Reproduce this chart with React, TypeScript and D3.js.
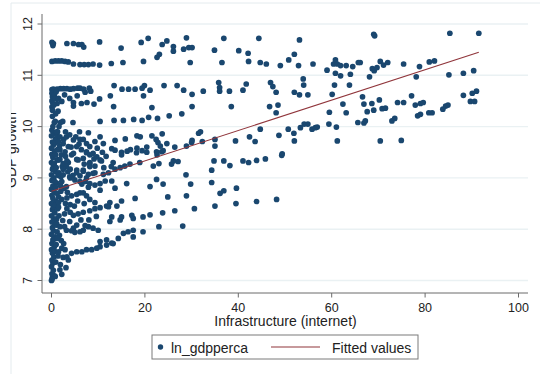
import React from "react";
import * as d3 from "d3";

type P = [number, number];

const xTickValues = [0, 20, 40, 60, 80, 100];
const yTickValues = [7, 8, 9, 10, 11, 12];
const fittedX = [0, 91.5];
const fittedY = [8.74, 11.45];
const xTitle = "Infrastructure (internet)";
const yTitle = "GDP growth";
const legendLabels = ["ln_gdpperca", "Fitted values"];

// internet (x), ln GDP per capita (y)
const topBand: P[] = [
  [0.1, 11.64], [0.3, 11.58], [0.4, 11.62], [3.3, 11.62], [4.7, 11.62], [5.8, 11.6], [6.5, 11.6], [6.9, 11.55],
  [10.3, 11.65], [14.9, 11.53], [19.2, 11.64], [20.7, 11.72], [22.6, 11.35], [23.1, 11.41], [23.7, 11.6], [24.7, 11.67],
  [26.1, 11.56], [26.1, 11.47], [28.9, 11.73], [28.3, 11.51], [29.4, 11.54], [30.1, 11.54], [29.7, 11.25],
  [0.1, 11.27], [0.8, 11.28], [1.5, 11.28], [2.2, 11.28], [2.9, 11.27], [3.6, 11.26], [4.7, 11.22], [6.1, 11.21],
  [7.0, 11.21], [7.9, 11.21], [8.9, 11.22], [10.3, 11.2], [12.8, 11.23], [15.3, 11.25], [19.7, 11.27],
  [34.9, 11.49], [36.9, 11.72], [36.5, 11.25], [40.1, 11.48], [42.1, 11.43], [42.2, 11.27], [44.4, 11.72], [44.7, 11.25],
  [46, 11.22], [49, 11.19], [50.8, 11.3], [52, 11.41], [52.9, 11.19], [53.1, 11.69], [56, 11.22], [59, 11.1],
  [60.4, 11.22], [60.8, 11.3], [61.2, 11.22], [61.9, 11.19], [60.8, 11.04], [61.9, 10.99], [63.1, 11.19], [64, 11.02],
  [64.5, 11.17], [65.7, 11.25], [69, 11.8], [69.2, 11.77], [85.3, 11.82], [91.5, 11.82], [66.1, 11.25], [68.1, 10.97],
  [68.7, 11.13], [69.1, 11.09], [69.7, 11.15], [70.4, 11.27], [71.1, 11.2], [72, 11.25], [75.4, 11.22], [78.1, 10.97],
  [78.8, 11.17], [80.9, 11.26], [82, 11.28], [85.1, 11.01], [88.2, 11.04], [90.4, 11.09],
];

const upperBand: P[] = [
  [0.1, 10.72], [0.4, 10.73], [1.2, 10.73], [1.9, 10.74], [2.6, 10.74], [3.3, 10.74], [4.0, 10.73], [4.7, 10.74],
  [5.6, 10.75], [6.1, 10.75], [6.9, 10.73], [7.2, 10.67], [8.1, 10.75], [8.4, 10.69],
  [0.1, 10.65], [0.2, 10.58], [0.1, 10.5], [0.3, 10.45], [0.1, 10.38], [0.2, 10.32], [0.6, 10.62], [0.8, 10.55], [1.0, 10.68],
  [2.2, 10.49], [4.7, 10.47], [4.7, 10.4], [6.4, 10.45], [7.6, 10.47], [9.1, 10.44], [10.3, 10.54], [12.6, 10.6],
  [13.4, 10.8], [13.3, 10.39], [15.1, 10.73], [16.5, 10.73], [17.9, 10.73], [19.4, 10.75], [19.9, 10.8], [19.7, 10.6],
  [21.1, 10.71], [21.5, 10.37], [24.1, 10.8], [26.9, 10.8], [28.3, 10.71], [30.1, 10.63], [30.1, 10.39], [32.5, 10.69],
  [35.8, 10.86], [36, 10.76], [36, 10.69], [38.1, 10.69], [38.5, 10.39], [41, 10.71], [41.7, 10.83], [46.9, 10.86],
  [47.4, 10.78], [48.1, 10.67], [46.7, 10.39], [48.5, 10.42], [48.1, 10.27], [52, 10.67], [53.1, 10.62], [53.9, 10.93],
  [54, 10.81], [54.9, 10.62], [60.1, 10.63], [60.6, 10.81], [63.8, 10.81], [62.4, 10.44], [63.1, 10.27], [59.5, 10.28],
  [66.6, 10.58], [66.9, 10.44], [67.6, 10.29], [68.6, 10.45], [69, 10.32], [70.2, 10.52], [70.8, 10.35], [71.5, 10.36],
  [74.1, 10.47], [75.4, 10.47], [77.1, 10.6], [77.9, 10.42], [79, 10.45], [79.6, 10.47], [80.8, 10.27], [81.5, 10.27],
  [83.8, 10.34], [84.4, 10.4], [84.9, 10.42], [88.2, 10.61], [90.1, 10.65], [91, 10.69], [89.7, 10.49], [90.6, 10.49],
];

const middleBand: P[] = [
  [0.6, 10.08], [1.9, 10.08], [4.6, 10.08], [10.4, 10.1], [13.4, 10.12], [15.4, 10.12], [17.6, 10.14], [19.4, 10.12],
  [20.8, 10.18], [22.7, 10.16], [25.2, 10.21], [27.9, 10.25],
  [11.1, 9.67], [13.6, 9.73], [15.8, 9.76], [18.3, 9.82], [19, 9.8], [21.5, 9.82], [23.7, 9.86], [22.4, 9.75],
  [22.8, 9.69], [24.7, 9.67], [23.3, 9.62], [22.6, 9.45], [23.9, 9.53], [26.4, 9.6], [28.9, 9.62], [30, 9.69],
  [30.1, 9.73], [31.5, 9.87], [12.9, 9.57], [13.6, 9.54], [15, 9.5], [16.2, 9.52], [16.9, 9.55], [18.3, 9.58],
  [19.4, 9.53], [20.4, 9.6], [15.0, 9.45], [18.2, 9.49], [20.4, 9.5],
  [31.9, 9.9], [35, 9.75], [35, 9.62], [39.4, 9.72], [42.4, 9.8], [43.6, 9.71], [44.7, 9.95], [48.7, 9.83],
  [50.7, 9.95], [51.9, 9.87], [52, 9.72], [53.3, 9.98], [54.1, 10.05], [54.9, 10.05], [55.8, 9.95], [56.5, 9.98],
  [56.9, 9.99], [59.4, 10.05], [61, 9.99], [61.2, 9.72], [49.4, 9.47], [32.3, 9.71],
  [65.6, 10.08], [66.9, 10.07], [67.2, 10.11], [72.9, 10.11], [73.5, 10.16], [78.4, 10.21], [79, 10.24], [70.4, 9.72],
  [74.9, 9.73],
];

const lowerRight: P[] = [
  [22.5, 9.51], [23.6, 9.51], [21.1, 8.83], [21.8, 9.23], [23, 9.28], [25.7, 9.27], [26.1, 9.33], [27.1, 9.32],
  [28.8, 9.06], [29.8, 8.88], [28.9, 8.65], [24.9, 8.63], [22.5, 8.97], [23.9, 8.88], [21.1, 8.28], [23.8, 8.32],
  [26.4, 8.36], [30.6, 8.4], [23, 8.05], [28.1, 8.06], [34.3, 9.15], [34.3, 8.91], [34.8, 9.33], [36.9, 9.33],
  [38.2, 9.24], [41, 9.33], [42.2, 9.3], [43.9, 9.34], [45.8, 9.37], [49.3, 9.44], [36.1, 8.7], [36.9, 8.75],
  [39.6, 8.8], [35, 8.45], [39.5, 8.5], [43.9, 8.54], [48.2, 8.58],
  [10.4, 8.76], [13.6, 8.8], [16.1, 8.89], [17.9, 8.6], [12.5, 8.15], [14.7, 8.18], [17.5, 8.21], [19.6, 8.24],
];

const leftColumn: P[] = [
  [0.0, 7.0], [0.2, 7.06], [0.1, 7.13], [0.4, 7.2], [0.0, 7.27], [0.3, 7.34], [0.1, 7.4], [0.5, 7.46], [0.2, 7.53],
  [0.0, 7.6], [0.6, 7.66], [0.1, 7.72], [0.3, 7.79], [0.8, 7.85], [0.0, 7.9], [0.4, 7.97], [0.2, 8.03], [1.0, 8.08],
  [0.1, 8.14], [0.5, 8.2], [0.0, 8.26], [0.7, 8.32], [0.2, 8.38], [0.4, 8.44], [0.0, 8.5], [0.9, 8.55], [0.3, 8.6],
  [0.1, 8.66], [0.6, 8.72], [0.0, 8.78], [0.3, 8.84], [1.1, 8.9], [0.1, 8.95], [0.5, 9.0], [0.0, 9.06], [0.8, 9.12],
  [0.2, 9.17], [0.4, 9.23], [0.0, 9.3], [1.2, 9.35], [0.3, 9.4], [0.1, 9.46], [0.7, 9.52], [0.0, 9.58], [0.4, 9.64],
  [0.2, 9.7], [0.9, 9.76], [0.0, 9.82], [0.5, 9.88], [0.1, 9.93], [0.3, 10.0], [1.3, 9.55], [1.0, 9.2], [1.2, 8.7],
  [1.1, 8.2], [1.0, 7.7], [1.3, 9.9], [1.4, 9.05], [0.6, 7.09], [0.9, 7.36], [0.7, 7.57], [0.5, 7.81], [1.2, 7.95],
  [0.6, 8.12], [1.3, 8.4], [0.8, 8.47], [1.5, 8.63], [0.9, 8.81], [0.7, 8.93], [1.6, 9.1], [0.6, 9.28], [0.9, 9.45],
  [1.7, 9.62], [0.7, 9.68], [1.1, 9.84], [0.8, 10.1], [0.2, 10.2],
];

const leftDense: P[] = [
  [1.9, 7.31], [1.4, 7.48], [2.1, 7.78], [1.7, 7.88], [2.6, 7.72], [1.6, 8.26], [2.4, 8.17], [2.8, 8.3], [2.0, 8.74],
  [2.7, 8.8], [3.4, 8.72], [1.9, 8.85], [2.3, 9.22], [3.0, 9.42], [2.1, 9.45], [3.6, 9.3], [4.2, 9.6], [2.6, 9.75],
  [3.0, 9.9], [1.6, 10.0], [2.4, 10.1], [1.4, 10.3], [1.2, 10.45], [0.9, 10.25], [5.2, 9.8], [6.4, 9.55], [7.0, 9.27],
  [9.8, 9.58], [10.9, 9.5], [11.7, 9.42], [9.1, 9.37], [5.9, 9.66], [7.9, 9.88], [3.0, 8.5], [4.0, 8.48], [4.9, 8.45],
  [5.6, 8.55], [7.0, 8.5], [3.9, 8.15], [5.4, 8.08], [2.8, 8.05], [6.3, 8.18], [8.0, 8.18], [9.6, 8.25], [2.5, 7.45],
  [3.1, 7.25], [1.3, 7.82], [2.0, 9.02], [3.5, 9.12], [4.6, 9.05], [6.5, 8.88], [7.9, 8.82], [11.2, 9.2], [12.8, 9.22],
  [1.5, 10.55], [2.8, 10.62], [0.5, 10.42], [3.9, 10.55], [5.5, 10.6], [6.0, 9.9],
];

const leftBlob: P[] = [
  [1.1, 9.9], [1.8, 9.8], [3.2, 9.8], [3.9, 9.84], [1.5, 9.71], [2.5, 9.67], [3.6, 9.61], [4.7, 9.74], [5.4, 9.61],
  [6.1, 9.75], [6.8, 9.75], [7.5, 9.67], [8.2, 9.61], [9.3, 9.71], [10.4, 9.8], [1.8, 9.55], [2.9, 9.51], [4.3, 9.45],
  [4.7, 9.48], [5.7, 9.35], [6.8, 9.38], [7.5, 9.51], [8.2, 9.45], [8.9, 9.48], [9.7, 9.41], [10.4, 9.35], [8.2, 9.28],
  [1.5, 9.35], [2.5, 9.28], [3.2, 9.22], [5.4, 9.15], [6.8, 9.15], [8.2, 9.22], [8.9, 9.09], [1.5, 9.09], [2.5, 9.06],
  [3.9, 9.02], [5.0, 8.96], [6.1, 8.93], [7.2, 8.93], [8.2, 8.89], [9.3, 8.86], [10.4, 8.89], [2.2, 8.93], [3.2, 8.83],
  [7.5, 9.49], [1.8, 9.36], [3.3, 9.33], [5.4, 9.36], [8.2, 9.3], [10.7, 9.33], [13.2, 9.3], [18.9, 9.3],
  [2.5, 9.17], [4.0, 9.17], [5.4, 9.1], [6.8, 9.13], [7.9, 9.07], [9.3, 9.23], [9.3, 9.1], [11.1, 9.07], [12.2, 9.1],
  [13.6, 9.17], [14.7, 9.2], [15.7, 9.23], [16.8, 9.27], [4.0, 9.0], [6.1, 9.04], [7.5, 9.0], [11.5, 8.94], [12.9, 8.94],
];

const leftArms: P[] = [
  [1.5, 8.52], [2.2, 8.58], [3.3, 8.61], [4.3, 8.65], [5.4, 8.68], [6.1, 8.71], [6.8, 8.71], [7.5, 8.65], [8.2, 8.58],
  [9.3, 8.52], [10.4, 8.42], [11.8, 8.45], [12.5, 8.52], [14.0, 8.45], [15.0, 8.55],
  [1.5, 8.43], [3.3, 8.4], [4.0, 8.33], [4.7, 8.27], [5.7, 8.3], [6.8, 8.33], [8.2, 8.36], [9.3, 8.4], [12.2, 8.44],
  [12.9, 8.24], [15.0, 8.24], [17.2, 8.27],
  [1.1, 8.11], [1.8, 8.05], [3.2, 7.98], [4.7, 8.02], [6.1, 7.95], [6.8, 7.98], [7.9, 8.05], [8.9, 8.02], [10.0, 7.98],
  [4.3, 7.97], [5.0, 7.94], [7.2, 8.07],
  [1.5, 7.56], [2.2, 7.63], [2.9, 7.6], [3.3, 7.46], [3.6, 7.4], [4.3, 7.53], [5.4, 7.56], [6.5, 7.56], [7.5, 7.6],
  [8.6, 7.6], [9.7, 7.63], [10.4, 7.66], [11.8, 7.69], [12.9, 7.73], [10.4, 7.76], [11.8, 7.79], [13.2, 7.72],
  [14.3, 7.82], [15.4, 7.92], [16.4, 7.95], [17.5, 7.98], [17.5, 7.85], [19.6, 7.95],
  [1.8, 7.21], [2.2, 7.12], [0.8, 7.08], [0.1, 7.02],
];

const FONT = "'Liberation Sans', Arial, Helvetica, sans-serif";
const DOT = "#1a476f";
const FIT = "#90353b";

export default function App() {
  const W = 540;
  const H = 374;
  const x = d3.scaleLinear().domain([0, 100]).range([51.5, 518.5]);
  const y = d3.scaleLinear().domain([7, 12]).range([280.5, 24]);
  const plotLeft = 42;
  const plotRight = 528;
  const plotTop = 14;
  const plotBottom = 293;

  const points: P[] = [
    ...topBand, ...upperBand, ...middleBand, ...lowerRight, ...leftColumn, ...leftDense, ...leftBlob, ...leftArms,
  ];

  const fitLine = d3
    .line<number>()
    .x((_, i) => x(fittedX[i]))
    .y((_, i) => y(fittedY[i]))(fittedX) as string;

  return (
    <svg
      width={W}
      height={H}
      style={{ position: "absolute", left: 0, top: 0, background: "#fff" }}
      fontFamily={FONT}
    >
      <defs>
        <clipPath id="regionClip">
          <rect x={11} y={3} width={W - 11} height={H - 3} />
        </clipPath>
      </defs>
      <rect x={0} y={0} width={W} height={H} fill="#fff" />
      {/* graph region border */}
      <line x1={11} x2={11} y1={3} y2={H} stroke="#e4ebee" strokeWidth={1} />
      <line x1={11} x2={W} y1={3} y2={3} stroke="#e4ebee" strokeWidth={1} />

      {/* gridlines */}
      {yTickValues.map((t) => (
        <line key={"g" + t} x1={plotLeft} x2={plotRight} y1={y(t)} y2={y(t)} stroke="#eaf1f3" strokeWidth={1.4} />
      ))}

      {/* axes */}
      <line x1={plotLeft} x2={plotLeft} y1={plotTop} y2={plotBottom} stroke="#6b6b6b" strokeWidth={1} />
      <line x1={plotLeft} x2={plotRight} y1={plotBottom} y2={plotBottom} stroke="#6b6b6b" strokeWidth={1} />
      {yTickValues.map((t) => (
        <g key={"yt" + t}>
          <line x1={plotLeft - 4.5} x2={plotLeft} y1={y(t)} y2={y(t)} stroke="#6b6b6b" strokeWidth={1} />
          <text
            transform={`translate(31.5,${y(t)}) rotate(-90)`}
            textAnchor="middle"
            fontSize={12.5}
            fill="#222"
          >
            {t}
          </text>
        </g>
      ))}
      {xTickValues.map((t) => (
        <g key={"xt" + t}>
          <line x1={x(t)} x2={x(t)} y1={plotBottom} y2={plotBottom + 4.5} stroke="#6b6b6b" strokeWidth={1} />
          <text x={x(t)} y={311.5} textAnchor="middle" fontSize={12.5} fill="#222">
            {t}
          </text>
        </g>
      ))}
      <text x={285.5} y={326} textAnchor="middle" fontSize={14} fill="#222">
        {xTitle}
      </text>
      <g clipPath="url(#regionClip)">
        <text transform="translate(15.5,150) rotate(-90)" textAnchor="middle" fontSize={14} fill="#222">
          {yTitle}
        </text>
      </g>

      {/* scatter */}
      {points.map((p, i) => (
        <circle key={"p" + i} cx={x(p[0])} cy={y(p[1])} r={2.85} fill={DOT} />
      ))}

      {/* fitted line */}
      <path d={fitLine} fill="none" stroke={FIT} strokeWidth={1.1} />

      {/* legend */}
      <rect x={152} y={335} width={266} height={24} fill="#fff" stroke="#7a7a7a" strokeWidth={1} />
      <circle cx={160.5} cy={347} r={2.7} fill={DOT} />
      <text x={171} y={352.5} fontSize={14} fill="#222">
        {legendLabels[0]}
      </text>
      <line x1={271} x2={320} y1={347} y2={347} stroke={FIT} strokeWidth={1.1} />
      <text x={332} y={352.5} fontSize={14} fill="#222">
        {legendLabels[1]}
      </text>
    </svg>
  );
}
